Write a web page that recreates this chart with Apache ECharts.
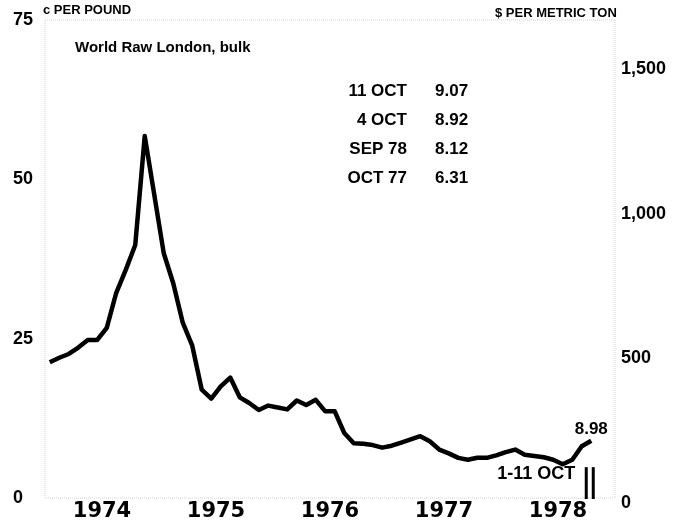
<!DOCTYPE html>
<html>
<head>
<meta charset="utf-8">
<script src="https://cdn.jsdelivr.net/npm/echarts@6/dist/echarts.min.js"></script>
<style>
  html, body { margin: 0; padding: 0; background: #fff; }
  #chart { width: 687px; height: 522px; }
</style>
</head>
<body>
<div id="chart"></div>
<script>
// Sugar price, World Raw London, bulk — monthly averages, cents per pound
const years = ['1974', '1975', '1976', '1977', '1978'];
const monthNames = ['JAN', 'FEB', 'MAR', 'APR', 'MAY', 'JUN', 'JUL', 'AUG', 'SEP', 'OCT', 'NOV', 'DEC'];
const months = [];
years.forEach(y => monthNames.forEach(m => months.push(m + ' ' + y)));

// Jan 1974 .. Sep 1978, then the 1-11 Oct 1978 average
const priceCents = [
  21.3, 22.0, 22.6, 23.6, 24.8, 24.8, 26.7, 32.2, 35.8, 39.7, 56.8, 47.6,
  38.4, 33.7, 27.5, 23.9, 17.0, 15.6, 17.5, 18.9, 15.8, 14.9, 13.8, 14.5,
  14.2, 13.9, 15.3, 14.6, 15.4, 13.6, 13.6, 10.2, 8.6, 8.5, 8.3, 7.9,
  8.2, 8.7, 9.2, 9.7, 8.9, 7.6, 7.0, 6.3, 6.0, 6.31, 6.3, 6.7,
  7.2, 7.6, 6.8, 6.6, 6.4, 6.0, 5.3, 6.0, 8.12, 8.98
];

const quoteDates = ['11 OCT', '4 OCT', 'SEP 78', 'OCT 77'];
const quoteValues = ['9.07', '8.92', '8.12', '6.31'];
const latestPeriod = '1-11 OCT';

const centsTicks = { min: 0, max: 75, interval: 25 };
const USD_T_PER_CENT_LB = 22.0462;   // 1 c/lb expressed in $ per metric ton
const tonTicks = { min: 0, max: centsTicks.max * USD_T_PER_CENT_LB, interval: 500 };

const chart = echarts.init(document.getElementById('chart'));
const lastIdx = priceCents.length - 1;
const boldSans = { fontFamily: 'Liberation Sans', fontWeight: 'bold', color: '#000' };

chart.setOption({
  animation: false,
  backgroundColor: '#fff',
  grid: {
    left: 45, right: 72, top: 20, bottom: 24,
    show: true, borderColor: '#d4d4d4', borderWidth: 1, borderType: 'dotted'
  },
  xAxis: [
    {
      type: 'category', data: months, position: 'top', boundaryGap: true,
      axisLine: { show: false }, axisTick: { show: false },
      axisLabel: { show: false }, splitLine: { show: false }
    },
    {
      type: 'category', data: years, position: 'bottom', boundaryGap: true,
      axisLine: { show: false }, axisTick: { show: false }, splitLine: { show: false },
      axisLabel: {
        fontFamily: 'DejaVu Sans', fontWeight: 'bold', fontSize: 21,
        color: '#000', margin: 3
      }
    }
  ],
  yAxis: [
    {
      type: 'value', position: 'left',
      min: centsTicks.min, max: centsTicks.max, interval: centsTicks.interval,
      axisLine: { show: false }, axisTick: { show: false }, splitLine: { show: false },
      axisLabel: Object.assign({ fontSize: 18, align: 'left', margin: 32, padding: [0, 0, 8, 0] }, boldSans)
    },
    {
      type: 'value', position: 'right',
      min: tonTicks.min, max: tonTicks.max, interval: tonTicks.interval,
      axisLine: { show: false }, axisTick: { show: false }, splitLine: { show: false },
      axisLabel: Object.assign({
        fontSize: 18, align: 'left', margin: 6,
        verticalAlign: 'top', lineHeight: 10,
        showMaxLabel: false,
        formatter: v => v.toLocaleString('en-US')
      }, boldSans)
    }
  ],
  series: [{
    type: 'line',
    xAxisIndex: 0, yAxisIndex: 0,
    data: priceCents.map((v, i) => i === lastIdx
      ? { value: v, label: Object.assign({ show: true, position: 'top', distance: 3, fontSize: 17, formatter: '{c}' }, boldSans) }
      : v),
    symbol: 'circle', symbolSize: 0, showSymbol: true, showAllSymbol: true,
    lineStyle: { color: '#000', width: 4.5, join: 'round', cap: 'butt' },
    itemStyle: { color: '#000' },
    silent: true
  }]
});

function drawAnnotations() {
  const end = chart.convertToPixel({ xAxisIndex: 0, yAxisIndex: 0 }, [months[lastIdx], 0]);
  const top5 = chart.convertToPixel({ xAxisIndex: 0, yAxisIndex: 0 }, [months[lastIdx], 5]);
  const elements = [
    { type: 'text', left: 43, top: 4, style: Object.assign({ text: 'c PER POUND', fontSize: 13 }, boldSans, { fill: '#000' }) },
    { type: 'text', left: 495, top: 7, style: Object.assign({ text: '$ PER METRIC TON', fontSize: 13 }, boldSans, { fill: '#000' }) },
    { type: 'text', left: 75, top: 40, style: Object.assign({ text: 'World Raw London, bulk', fontSize: 15 }, boldSans, { fill: '#000' }) },
    {
      type: 'text', x: end[0] - 16, y: 474,
      style: Object.assign({ text: latestPeriod, fontSize: 18, align: 'right', verticalAlign: 'middle' }, boldSans, { fill: '#000' })
    },
    { type: 'line', shape: { x1: end[0] - 5, y1: top5[1] + 1, x2: end[0] - 5, y2: end[1] + 1 }, style: { stroke: '#000', lineWidth: 3 } },
    { type: 'line', shape: { x1: end[0] + 2, y1: top5[1] + 1, x2: end[0] + 2, y2: end[1] + 1 }, style: { stroke: '#000', lineWidth: 3 } }
  ];
  quoteDates.forEach((d, i) => {
    const y = 91 + 29 * i;
    elements.push({
      type: 'text', x: 407, y: y,
      style: Object.assign({ text: d, fontSize: 17, align: 'right', verticalAlign: 'middle' }, boldSans, { fill: '#000' })
    });
    elements.push({
      type: 'text', x: 435, y: y,
      style: Object.assign({ text: quoteValues[i], fontSize: 17, align: 'left', verticalAlign: 'middle' }, boldSans, { fill: '#000' })
    });
  });
  chart.setOption({ graphic: { elements: elements } });
}
drawAnnotations();
</script>
</body>
</html>
